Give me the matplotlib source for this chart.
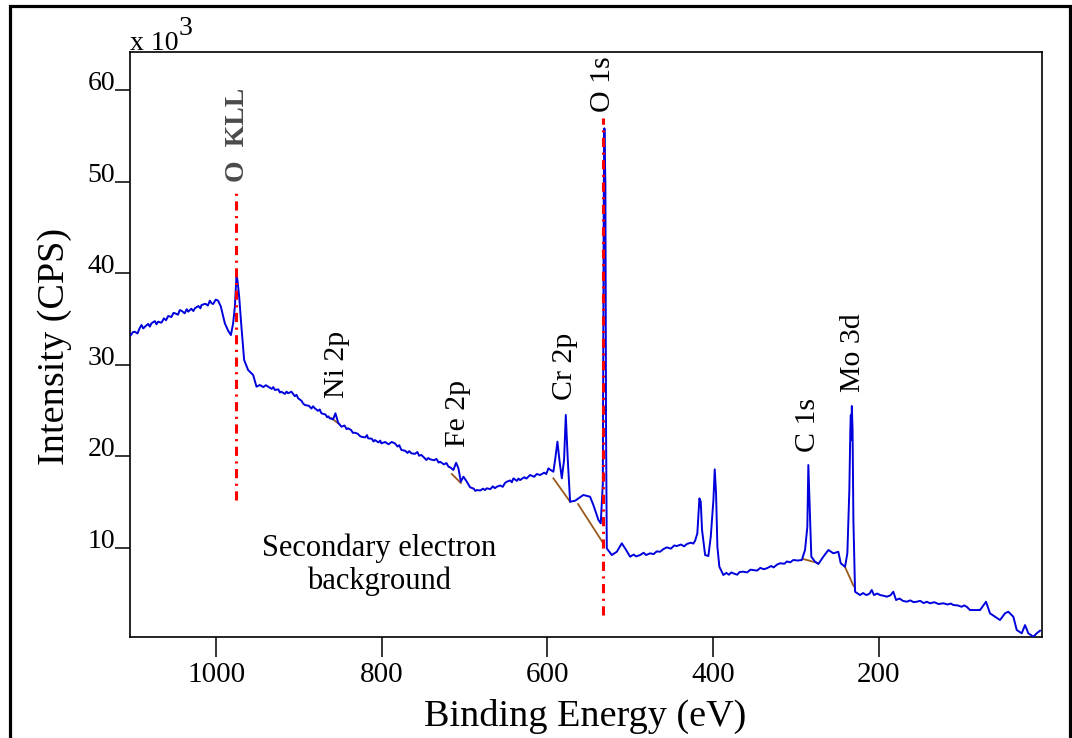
import numpy as np
import matplotlib
matplotlib.use('Agg')
import matplotlib.pyplot as plt
from matplotlib.patches import Rectangle

plt.rcParams['font.family'] = ['Liberation Serif', 'DejaVu Serif']

# Survey spectrum: binding energy (eV) and intensity (x10^3 CPS)
energy = [1102.9, 1100.5, 1098.1, 1095.0, 1092.5, 1090.1, 1088.0, 1086.0, 1082.0, 1080.0,
          1078.1, 1074.0, 1072.0, 1070.0, 1066.0, 1063.0, 1060.5, 1057.9, 1054.0, 1051.5,
          1049.8, 1046.0, 1044.0, 1041.9, 1038.0, 1035.5, 1033.8, 1030.0, 1027.5, 1025.7,
          1021.5, 1019.0, 1017.7, 1013.0, 1010.0, 1007.6, 1005.5, 1003.6, 1000.5, 997.6,
          994.3, 989.5, 985.5, 982.2, 979.5, 977.4, 976.2, 975.5, 974.3, 972.2,
          969.5, 966.2, 961.4, 955.3, 951.3, 947.2, 943.0, 940.0, 937.2, 933.0,
          931.0, 929.1, 925.0, 923.0, 921.2, 917.0, 915.0, 913.1, 909.1, 905.0,
          903.0, 901.0, 897.0, 895.0, 892.9, 888.0, 885.0, 883.0, 880.9, 877.0,
          875.0, 872.9, 868.0, 866.0, 864.5, 862.8, 858.8, 856.0, 852.7, 848.7,
          845.0, 842.5, 840.7, 837.0, 835.0, 832.6, 829.0, 826.5, 824.6, 820.0,
          818.0, 816.5, 812.0, 810.0, 808.4, 804.0, 802.0, 800.5, 796.0, 792.0,
          788.0, 784.3, 781.0, 779.0, 776.3, 772.0, 769.0, 767.0, 764.3, 760.0,
          757.0, 755.0, 752.2, 749.0, 746.2, 744.0, 741.7, 737.0, 734.0, 731.5,
          729.6, 725.0, 722.0, 719.5, 717.5, 713.6, 710.3, 707.5, 704.6, 701.5,
          697.4, 693.4, 689.0, 687.0, 685.3, 681.0, 678.0, 675.5, 673.3, 669.0,
          666.0, 663.5, 661.2, 657.0, 654.0, 651.5, 649.1, 645.0, 643.0, 641.1,
          637.0, 635.0, 633.1, 628.0, 625.5, 621.0, 616.0, 613.0, 608.9, 604.0,
          601.5, 598.9, 595.5, 592.9, 590.8, 588.0, 585.6, 582.7, 580.0, 577.9,
          575.5, 572.7, 566.7, 556.7, 548.6, 544.6, 538.5, 535.7, 533.2, 532.0,
          531.3, 530.1, 529.3, 528.4, 522.4, 516.3, 510.3, 506.3, 500.3, 496.0,
          493.0, 488.2, 484.0, 481.0, 476.1, 472.0, 468.0, 464.1, 460.0, 456.0,
          451.0, 447.0, 443.9, 439.0, 435.0, 431.9, 427.0, 424.0, 421.8, 419.1,
          416.6, 415.0, 413.4, 409.7, 405.8, 402.9, 399.7, 398.1, 396.5, 394.9,
          392.5, 387.7, 384.0, 381.0, 378.0, 375.6, 371.0, 368.0, 363.5, 359.0,
          355.0, 351.5, 347.0, 343.0, 339.0, 335.3, 330.0, 327.0, 323.0, 319.2,
          314.0, 311.0, 307.0, 303.2, 298.0, 293.0, 289.1, 286.3, 285.1, 283.0,
          281.5, 277.0, 273.0, 267.0, 260.9, 254.9, 248.9, 246.0, 240.8, 238.0,
          235.6, 234.4, 233.8, 233.2, 232.6, 231.7, 230.7, 228.7, 222.7, 219.0,
          216.5, 214.6, 211.0, 208.6, 205.8, 202.0, 198.5, 194.0, 190.5, 186.0,
          182.5, 179.2, 175.0, 171.0, 166.3, 162.0, 158.0, 154.2, 150.0, 146.0,
          142.0, 138.2, 133.0, 128.0, 122.1, 117.0, 113.0, 110.1, 105.0, 100.0,
          97.0, 93.9, 89.9, 77.8, 70.6, 65.8, 59.7, 53.7, 47.7, 43.7,
          37.6, 33.5, 27.5, 23.5, 19.5, 13.5, 9.4, 5.4]
counts = [33.23, 33.55, 33.59, 33.40, 33.95, 34.33, 33.95, 34.14, 34.45, 34.15,
          34.51, 34.75, 34.40, 34.69, 34.58, 35.05, 34.85, 35.31, 35.20, 35.65,
          35.61, 35.45, 35.95, 35.89, 35.60, 36.05, 35.78, 36.10, 35.85, 36.15,
          36.40, 36.15, 36.51, 36.65, 36.45, 36.98, 36.70, 36.62, 37.10, 36.98,
          36.33, 34.51, 33.70, 33.23, 34.51, 36.33, 38.51, 39.68, 39.24, 37.42,
          34.14, 30.50, 29.41, 28.86, 27.59, 27.77, 27.55, 27.75, 27.59, 27.35,
          27.55, 27.23, 27.30, 26.95, 27.04, 26.80, 27.05, 26.87, 27.04, 26.55,
          26.70, 26.32, 26.05, 25.75, 25.59, 25.50, 25.20, 25.45, 25.23, 24.95,
          25.10, 24.68, 24.55, 24.25, 24.35, 24.13, 24.03, 24.68, 23.65, 23.22,
          23.35, 22.95, 23.04, 22.85, 22.55, 22.56, 22.45, 22.20, 22.12, 22.05,
          22.30, 21.95, 21.90, 21.60, 21.76, 21.50, 21.70, 21.40, 21.55, 21.30,
          21.55, 21.40, 21.05, 21.20, 20.67, 20.60, 20.35, 20.55, 20.31, 20.25,
          20.45, 20.05, 20.13, 19.85, 19.58, 19.80, 19.66, 19.55, 19.70, 19.30,
          19.39, 19.10, 19.25, 18.85, 18.78, 18.49, 19.28, 18.67, 17.21, 17.76,
          17.21, 16.60, 16.45, 16.20, 16.30, 16.25, 16.45, 16.30, 16.49, 16.40,
          16.70, 16.50, 16.66, 16.80, 16.65, 17.05, 17.21, 17.35, 17.15, 17.58,
          17.30, 17.55, 17.39, 17.70, 17.55, 17.94, 17.75, 18.05, 17.94, 18.20,
          18.05, 18.67, 18.45, 18.30, 19.58, 21.58, 19.58, 17.58, 19.58, 24.50,
          19.58, 15.02, 15.13, 15.76, 15.57, 14.66, 13.03, 12.66, 17.03, 49.62,
          55.81, 49.62, 22.86, 9.93, 9.20, 9.56, 10.48, 9.93, 9.02, 9.25,
          9.05, 9.20, 9.45, 9.20, 9.39, 9.30, 9.60, 9.56, 9.85, 10.04,
          9.90, 10.25, 10.18, 10.35, 10.15, 10.40, 10.55, 10.45, 10.76, 11.57,
          15.39, 15.02, 11.93, 9.20, 9.09, 11.20, 15.21, 18.56, 15.94, 10.11,
          7.92, 7.02, 7.25, 7.05, 7.30, 7.20, 7.05, 7.35, 7.38, 7.30,
          7.60, 7.56, 7.50, 7.80, 7.65, 7.75, 8.00, 7.85, 8.15, 8.30,
          8.25, 8.50, 8.40, 8.66, 8.60, 8.66, 9.75, 12.29, 19.03, 13.03,
          9.02, 8.47, 8.22, 9.02, 9.75, 9.39, 9.56, 8.30, 7.92, 9.39,
          16.30, 22.86, 24.50, 21.76, 25.48, 22.86, 13.03, 5.19, 4.83, 5.05,
          4.90, 4.83, 5.00, 5.38, 4.83, 5.00, 4.83, 4.75, 4.65, 4.80,
          5.19, 4.29, 4.45, 4.20, 4.10, 4.25, 4.05, 4.10, 4.20, 3.95,
          4.10, 3.93, 4.05, 3.85, 3.93, 3.80, 3.90, 3.74, 3.70, 3.55,
          3.70, 3.55, 3.19, 3.19, 4.10, 2.83, 2.46, 2.10, 2.83, 3.01,
          2.46, 1.01, 0.65, 1.55, 0.65, 0.28, 0.65, 0.93]

# background segments drawn under the peaks (eV pairs, counts pairs)
bg_energy = [(861.2, 851.5), (715.5, 704.6), (592.9, 572.7), (563.1, 532.9),
             (291.5, 273.4), (240.8, 230.5)]
bg_counts = [(24.17, 23.51), (18.05, 17.07), (17.58, 15.02), (14.77, 10.51),
             (8.77, 8.33), (7.89, 5.82)]

# peak labels: text, energy, bottom of label (x10^3 CPS)
peak_names = ['Ni 2p', 'Fe 2p', 'Cr 2p', 'C 1s', 'Mo 3d', 'O 1s']
peak_pos = [853.9, 707.9, 578.7, 285.4, 231.1, 532.5]
peak_lab_y = [26.4, 21.0, 26.1, 20.45, 27.0, 57.6]

# dash-dot marker lines: O KLL and O 1s
marker_energy = [976.0, 532.9]
marker_lo = [15.2, 2.65]
marker_hi = [49.1, 56.9]

xticks = [1000, 800, 600, 400, 200]
yticks = [10, 20, 30, 40, 50, 60]

W, H = 1072, 738
fig = plt.figure(figsize=(W / 100, H / 100), dpi=100)
ax = fig.add_axes([130 / W, 1 - 636.7 / H, (1041.6 - 130) / W, (636.7 - 51.7) / H])

ax.plot(energy, counts, color='#0000dd', lw=1.4, zorder=3)
for e, c in zip(bg_energy, bg_counts):
    ax.plot(e, c, color='#9a5a1e', lw=1.3, zorder=2)

for e, lo, hi in zip(marker_energy, marker_lo, marker_hi):
    ax.plot([e, e], [lo, hi], color='red', lw=2.2,
            linestyle=(0, (3.0, 1.8, 0.7, 1.8)), zorder=4)

for name, e, y in zip(peak_names, peak_pos, peak_lab_y):
    ax.text(e, y, name, rotation=90, ha='center', va='bottom', fontsize=21.5)
ax.text(974.6, 50.0, 'O  KLL', rotation=90, ha='center', va='bottom',
        fontsize=20, fontweight='bold', color='#4a4a4a')

ax.text(803, 8.1, 'Secondary electron\nbackground', ha='center', va='center',
        fontsize=22, linespacing=1.15)

ax.set_xlim(1104, 3.5)
ax.set_ylim(0.28, 64.18)
ax.set_xticks(xticks)
ax.set_yticks(yticks)
ax.tick_params(axis='x', direction='out', length=14.5, width=1.1, pad=4, labelsize=21)
ax.tick_params(axis='y', direction='out', length=10.8, width=1.1, pad=0, labelsize=20)
for lab in ax.get_yticklabels():
    lab.set_verticalalignment('baseline')
for s in ax.spines.values():
    s.set_linewidth(1.2)

fig.text(585 / W, 1 - 726 / H, 'Binding Energy (eV)', ha='center', va='baseline', fontsize=27.5)
fig.text(55 / W, 1 - 347 / H, 'Intensity (CPS)', rotation=90, ha='center', va='center', fontsize=27.5)
fig.text(130 / W, 1 - 50 / H, 'x 10', ha='left', va='baseline', fontsize=20)
fig.text(179 / W, 1 - 35 / H, '3', ha='left', va='baseline', fontsize=20)

# outer frame, cut off at the bottom edge as in the original
fig.patches.append(Rectangle((10 / W, -0.05), 1060 / W, 1.05 - 6.5 / H,
                             transform=fig.transFigure, fill=False, lw=2.3,
                             edgecolor='black'))

fig.savefig('out.png', dpi=100)
